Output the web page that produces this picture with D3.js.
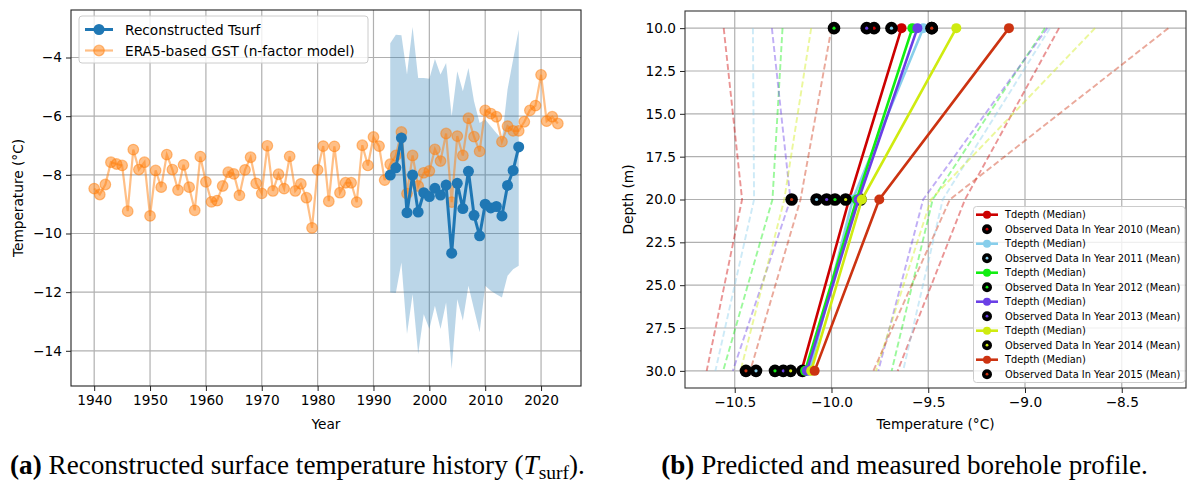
<!DOCTYPE html>
<html><head><meta charset="utf-8">
<script src="https://cdn.jsdelivr.net/npm/d3@7"></script>
<style>
body{margin:0;background:#fff}
svg{display:block}
text{font-family:"DejaVu Sans",sans-serif;fill:#000}
</style>
</head><body>
<svg id="c" width="1188" height="490"></svg>
<script>
// ---------------- Panel (a) data ----------------
const years = [1940,1941,1942,1943,1944,1945,1946,1947,1948,1949,1950,1951,1952,1953,1954,1955,1956,1957,1958,1959,
  1960,1961,1962,1963,1964,1965,1966,1967,1968,1969,1970,1971,1972,1973,1974,1975,1976,1977,1978,1979,
  1980,1981,1982,1983,1984,1985,1986,1987,1988,1989,1990,1991,1992,1993,1994,1995,1996,1997,1998,1999,
  2000,2001,2002,2003,2004,2005,2006,2007,2008,2009,2010,2011,2012,2013,2014,2015,2016,2017,2018,2019,
  2020,2021,2022,2023];
const era5GST = [-8.47,-8.67,-8.33,-7.57,-7.63,-7.68,-9.24,-7.14,-7.82,-7.57,-9.40,-7.85,-8.42,-7.31,-7.82,-8.52,-7.66,-8.42,-9.21,-7.38,
  -8.24,-8.92,-8.88,-8.38,-7.91,-7.97,-8.70,-7.83,-7.40,-8.29,-8.63,-7.01,-8.55,-7.98,-8.47,-7.37,-8.55,-8.31,-8.78,-9.81,
  -7.83,-7.02,-8.90,-7.03,-8.61,-8.27,-8.27,-8.93,-6.99,-7.68,-6.71,-7.02,-8.18,-7.64,-7.34,-6.54,-8.64,-7.34,-8.38,-7.93,
  -7.87,-7.13,-7.53,-6.59,-8.93,-6.68,-7.34,-6.07,-6.70,-7.20,-5.80,-5.91,-6.02,-6.87,-6.34,-6.50,-6.50,-6.19,-5.80,-5.64,
  -4.59,-6.17,-6.02,-6.25];
const reconYears = [1993,1994,1995,1996,1997,1998,1999,2000,2001,2002,2003,2004,2005,2006,2007,2008,2009,2010,2011,2012,2013,2014,2015,2016];
const reconTsurf = [-8.01,-7.76,-6.74,-9.29,-8.01,-9.27,-8.61,-8.74,-8.46,-8.69,-8.35,-10.67,-8.29,-9.15,-7.88,-9.38,-10.08,-9.00,-9.13,-9.08,-9.40,-8.36,-7.85,-7.05];
const bandUpper = [-3.51,-3.22,-3.24,-4.58,-2.96,-4.70,-4.70,-4.72,-4.05,-4.58,-4.19,-6.00,-4.47,-5.15,-4.36,-5.49,-6.23,-6.11,-6.34,-6.57,-6.79,-5.09,-4.07,-3.05];
const bandLower = [-12.01,-12.03,-10.99,-13.43,-12.07,-14.11,-12.75,-13.26,-12.46,-13.26,-12.35,-14.62,-12.24,-12.97,-11.78,-12.58,-13.37,-11.78,-11.95,-12.07,-12.18,-11.44,-11.22,-11.10];
const xTicksA = [1940,1950,1960,1970,1980,1990,2000,2010,2020];
const yTicksA = [-14,-12,-10,-8,-6,-4];
const legendA = ["Reconstructed Tsurf","ERA5-based GST (n-factor model)"];

// ---------------- Panel (b) data ----------------
const depths = [10,20,30];
const profileYears = ["2010","2011","2012","2013","2014","2015"];
const median2010 = [-9.638,-9.909,-10.155];
const median2011 = [-9.526,-9.890,-10.113];
const median2012 = [-9.582,-9.870,-10.136];
const median2013 = [-9.556,-9.860,-10.127];
const median2014 = [-9.355,-9.843,-10.105];
const median2015 = [-9.083,-9.753,-10.087];
const obs2010 = [-9.780,-9.850,-10.150];
const obs2011 = [-9.690,-10.077,-10.390];
const obs2012 = [-9.987,-9.982,-10.292];
const obs2013 = [-9.818,-10.025,-10.249];
const obs2014 = [-9.482,-9.927,-10.211];
const obs2015 = [-9.482,-10.206,-10.442];
const lower2010 = [-10.557,-10.462,-10.645];
const lower2011 = [-10.406,-10.400,-10.600];
const lower2012 = [-10.253,-10.305,-10.560];
const lower2013 = [-10.308,-10.212,-10.510];
const lower2014 = [-10.105,-10.244,-10.470];
const lower2015 = [-10.000,-10.160,-10.420];
const upper2010 = [-8.824,-9.310,-9.658];
const upper2011 = [-8.871,-9.425,-9.630];
const upper2012 = [-8.897,-9.477,-9.689];
const upper2013 = [-8.885,-9.526,-9.758];
const upper2014 = [-8.638,-9.486,-9.770];
const upper2015 = [-8.259,-9.388,-9.784];
const xTicksB = [-10.5,-10.0,-9.5,-9.0,-8.5];
const yTicksB = [10.0,12.5,15.0,17.5,20.0,22.5,25.0,27.5,30.0];

const medians = [median2010,median2011,median2012,median2013,median2014,median2015];
const observed = [obs2010,obs2011,obs2012,obs2013,obs2014,obs2015];
const lowers = [lower2010,lower2011,lower2012,lower2013,lower2014,lower2015];
const uppers = [upper2010,upper2011,upper2012,upper2013,upper2014,upper2015];

// ---------------- styles ----------------
const yearColors = ["#cc0000","#87ceeb","#11ee11","#6a3fe6","#cfeb10","#cc3311"];
const FS = 13.7;
const minus = s => s.replace("-", "\u2212");

const svg = d3.select("#c");

// ================= Panel (a) =================
const A = {l:71, r:581, t:10, b:386};
const xA = d3.scaleLinear().domain([1935.85, 2027.15]).range([A.l, A.r]);
const yA = d3.scaleLinear().domain([-15.2, -2.38]).range([A.b, A.t]);
const gA = svg.append("g");

// grid
gA.append("g").selectAll("line").data(xTicksA).join("line")
  .attr("x1", d=>xA(d)).attr("x2", d=>xA(d)).attr("y1", A.t).attr("y2", A.b)
  .attr("stroke","#b0b0b0").attr("stroke-width",1.2);
gA.append("g").selectAll("line").data(yTicksA).join("line")
  .attr("y1", d=>yA(d)).attr("y2", d=>yA(d)).attr("x1", A.l).attr("x2", A.r)
  .attr("stroke","#b0b0b0").attr("stroke-width",1.2);

// band
const bandData = reconYears.map((y,i)=>({y, lo:bandLower[i], hi:bandUpper[i]}));
gA.append("path").datum(bandData)
  .attr("d", d3.area().x(d=>xA(d.y)).y0(d=>yA(d.lo)).y1(d=>yA(d.hi)))
  .attr("fill","#1f77b4").attr("fill-opacity",0.3);

// ERA5 orange
const era = years.map((y,i)=>({y, v:era5GST[i]}));
gA.append("path").datum(era)
  .attr("d", d3.line().x(d=>xA(d.y)).y(d=>yA(d.v)))
  .attr("fill","none").attr("stroke","#ff7f0e").attr("stroke-opacity",0.5).attr("stroke-width",2.2);
gA.append("g").selectAll("circle").data(era).join("circle")
  .attr("cx", d=>xA(d.y)).attr("cy", d=>yA(d.v)).attr("r",5.3)
  .attr("fill","#ff7f0e").attr("fill-opacity",0.5)
  .attr("stroke","#ff7f0e").attr("stroke-opacity",0.5).attr("stroke-width",1.2);

// Reconstructed blue
const rec = reconYears.map((y,i)=>({y, v:reconTsurf[i]}));
gA.append("path").datum(rec)
  .attr("d", d3.line().x(d=>xA(d.y)).y(d=>yA(d.v)))
  .attr("fill","none").attr("stroke","#1f77b4").attr("stroke-width",3);
gA.append("g").selectAll("circle").data(rec).join("circle")
  .attr("cx", d=>xA(d.y)).attr("cy", d=>yA(d.v)).attr("r",5.5)
  .attr("fill","#1f77b4");

// axes
const axA_x = gA.append("g").attr("transform",`translate(0,${A.b})`)
  .call(d3.axisBottom(xA).tickValues(xTicksA).tickFormat(d3.format("d")).tickSizeOuter(0).tickSize(5).tickPadding(4));
const axA_y = gA.append("g").attr("transform",`translate(${A.l},0)`)
  .call(d3.axisLeft(yA).tickValues(yTicksA).tickFormat(d=>minus(String(d))).tickSizeOuter(0).tickSize(5).tickPadding(4));
[axA_x, axA_y].forEach(a=>{
  a.select(".domain").remove();
  a.selectAll("line").attr("stroke","#222").attr("stroke-width",1);
  a.selectAll("text").attr("font-size",FS).attr("font-family","DejaVu Sans").attr("fill","#000");
});
gA.append("rect").attr("x",A.l).attr("y",A.t).attr("width",A.r-A.l).attr("height",A.b-A.t)
  .attr("fill","none").attr("stroke","#222").attr("stroke-width",1.1);

gA.append("text").attr("x",(A.l+A.r)/2).attr("y",429).attr("text-anchor","middle").attr("font-size",FS).text("Year");
gA.append("text").attr("transform",`translate(23,${(A.t+A.b)/2}) rotate(-90)`).attr("text-anchor","middle")
  .attr("font-size",FS).text("Temperature (°C)");

// legend a
const LA = gA.append("g");
LA.append("rect").attr("x",79).attr("y",16).attr("width",289).attr("height",47).attr("rx",3)
  .attr("fill","#fff").attr("fill-opacity",0.8).attr("stroke","#cccccc").attr("stroke-width",1);
const legRowsA = [29.5, 50.5];
LA.append("line").attr("x1",85).attr("x2",113).attr("y1",legRowsA[0]).attr("y2",legRowsA[0])
  .attr("stroke","#1f77b4").attr("stroke-width",3);
LA.append("circle").attr("cx",99).attr("cy",legRowsA[0]).attr("r",5.5).attr("fill","#1f77b4");
LA.append("line").attr("x1",85).attr("x2",113).attr("y1",legRowsA[1]).attr("y2",legRowsA[1])
  .attr("stroke","#ff7f0e").attr("stroke-opacity",0.5).attr("stroke-width",2.2);
LA.append("circle").attr("cx",99).attr("cy",legRowsA[1]).attr("r",5.3)
  .attr("fill","#ff7f0e").attr("fill-opacity",0.5).attr("stroke","#ff7f0e").attr("stroke-opacity",0.5).attr("stroke-width",1.2);
LA.selectAll("text.lg").data(legendA).join("text").attr("class","lg")
  .attr("x",125).attr("y",(d,i)=>legRowsA[i]+5).attr("font-size",FS).text(d=>d);

// ================= Panel (b) =================
const B = {l:685, r:1186, t:11, b:388};
const xB = d3.scaleLinear().domain([-10.757, -8.168]).range([B.l, B.r]);
const yB = d3.scaleLinear().domain([9, 31]).range([B.t, B.b]);
const gB = svg.append("g");

gB.append("g").selectAll("line").data(xTicksB).join("line")
  .attr("x1", d=>xB(d)).attr("x2", d=>xB(d)).attr("y1", B.t).attr("y2", B.b)
  .attr("stroke","#b0b0b0").attr("stroke-width",1.2);
gB.append("g").selectAll("line").data(yTicksB).join("line")
  .attr("y1", d=>yB(d)).attr("y2", d=>yB(d)).attr("x1", B.l).attr("x2", B.r)
  .attr("stroke","#b0b0b0").attr("stroke-width",1.2);

const prof = d3.line().x(d=>xB(d.t)).y(d=>yB(d.z));
const toPts = arr => depths.map((z,i)=>({z, t:arr[i]}));

// dashed bounds
profileYears.forEach((yr,k)=>{
  [lowers[k], uppers[k]].forEach(arr=>{
    gB.append("path").datum(toPts(arr)).attr("d",prof)
      .attr("fill","none").attr("stroke",yearColors[k]).attr("stroke-opacity",0.42)
      .attr("stroke-width",1.9).attr("stroke-dasharray","6,3");
  });
});
// medians + observations
profileYears.forEach((yr,k)=>{
  const pts = toPts(medians[k]);
  gB.append("path").datum(pts).attr("d",prof)
    .attr("fill","none").attr("stroke",yearColors[k]).attr("stroke-width",2.6);
  gB.append("g").selectAll("circle").data(pts).join("circle")
    .attr("cx", d=>xB(d.t)).attr("cy", d=>yB(d.z)).attr("r",5).attr("fill",yearColors[k]);
  const ob = toPts(observed[k]);
  const go = gB.append("g");
  go.selectAll("circle.o").data(ob).join("circle").attr("class","o")
    .attr("cx", d=>xB(d.t)).attr("cy", d=>yB(d.z)).attr("r",6.3).attr("fill","#000");
  go.selectAll("circle.i").data(ob).join("circle").attr("class","i")
    .attr("cx", d=>xB(d.t)).attr("cy", d=>yB(d.z)).attr("r",1.6).attr("fill",yearColors[k]);
});

const axB_x = gB.append("g").attr("transform",`translate(0,${B.b})`)
  .call(d3.axisBottom(xB).tickValues(xTicksB).tickFormat(d=>minus(d3.format(".1f")(d))).tickSizeOuter(0).tickSize(5).tickPadding(4));
const axB_y = gB.append("g").attr("transform",`translate(${B.l},0)`)
  .call(d3.axisLeft(yB).tickValues(yTicksB).tickFormat(d3.format(".1f")).tickSizeOuter(0).tickSize(5).tickPadding(4));
[axB_x, axB_y].forEach(a=>{
  a.select(".domain").remove();
  a.selectAll("line").attr("stroke","#222").attr("stroke-width",1);
  a.selectAll("text").attr("font-size",FS).attr("font-family","DejaVu Sans").attr("fill","#000");
});
gB.append("rect").attr("x",B.l).attr("y",B.t).attr("width",B.r-B.l).attr("height",B.b-B.t)
  .attr("fill","none").attr("stroke","#333").attr("stroke-width",1.1);

gB.append("text").attr("x",(B.l+B.r)/2).attr("y",429).attr("text-anchor","middle").attr("font-size",FS).text("Temperature (°C)");
gB.append("text").attr("transform",`translate(633,${(B.t+B.b)/2}) rotate(-90)`).attr("text-anchor","middle")
  .attr("font-size",FS).text("Depth (m)");

// legend b
const LB = gB.append("g");
LB.append("rect").attr("x",973.5).attr("y",206.5).attr("width",211.5).attr("height",176).attr("rx",3)
  .attr("fill","#fff").attr("fill-opacity",0.8).attr("stroke","#cccccc").attr("stroke-width",1);
const FSL = 9.8;
profileYears.forEach((yr,k)=>{
  const y1 = 214.7 + (2*k)*14.5, y2 = 214.7 + (2*k+1)*14.5;
  LB.append("line").attr("x1",976).attr("x2",998).attr("y1",y1).attr("y2",y1)
    .attr("stroke",yearColors[k]).attr("stroke-width",2.6);
  LB.append("circle").attr("cx",987).attr("cy",y1).attr("r",4).attr("fill",yearColors[k]);
  LB.append("text").attr("x",1005).attr("y",y1+3.6).attr("font-size",FSL).text("Tdepth (Median)");
  LB.append("circle").attr("cx",987).attr("cy",y2).attr("r",5).attr("fill","#000");
  LB.append("circle").attr("cx",987).attr("cy",y2).attr("r",1.4).attr("fill",yearColors[k]);
  LB.append("text").attr("x",1005).attr("y",y2+3.6).attr("font-size",FSL).text(`Observed Data In Year ${yr} (Mean)`);
});

// ================= Captions =================
function caption(cx, width, label, parts){
  const t = svg.append("text").attr("x",cx).attr("y",474).attr("text-anchor","middle")
    .style("font-family","'Liberation Serif','DejaVu Serif',serif").attr("font-size",20);
  t.append("tspan").attr("font-weight","bold").text(label);
  parts(t);
  const w = t.node().getComputedTextLength();
  t.attr("font-size", 20*width/w);
}
caption(297.5, 575, "(a)", t=>{
  t.append("tspan").text(" Reconstructed surface temperature history (");
  t.append("tspan").attr("font-style","italic").text("T");
  t.append("tspan").attr("font-size","0.72em").attr("dy","0.25em").text("surf");
  t.append("tspan").attr("dy","-0.18em").text(").");
});
caption(904.5, 487, "(b)", t=>{
  t.append("tspan").text(" Predicted and measured borehole profile.");
});
</script>
</body></html>
